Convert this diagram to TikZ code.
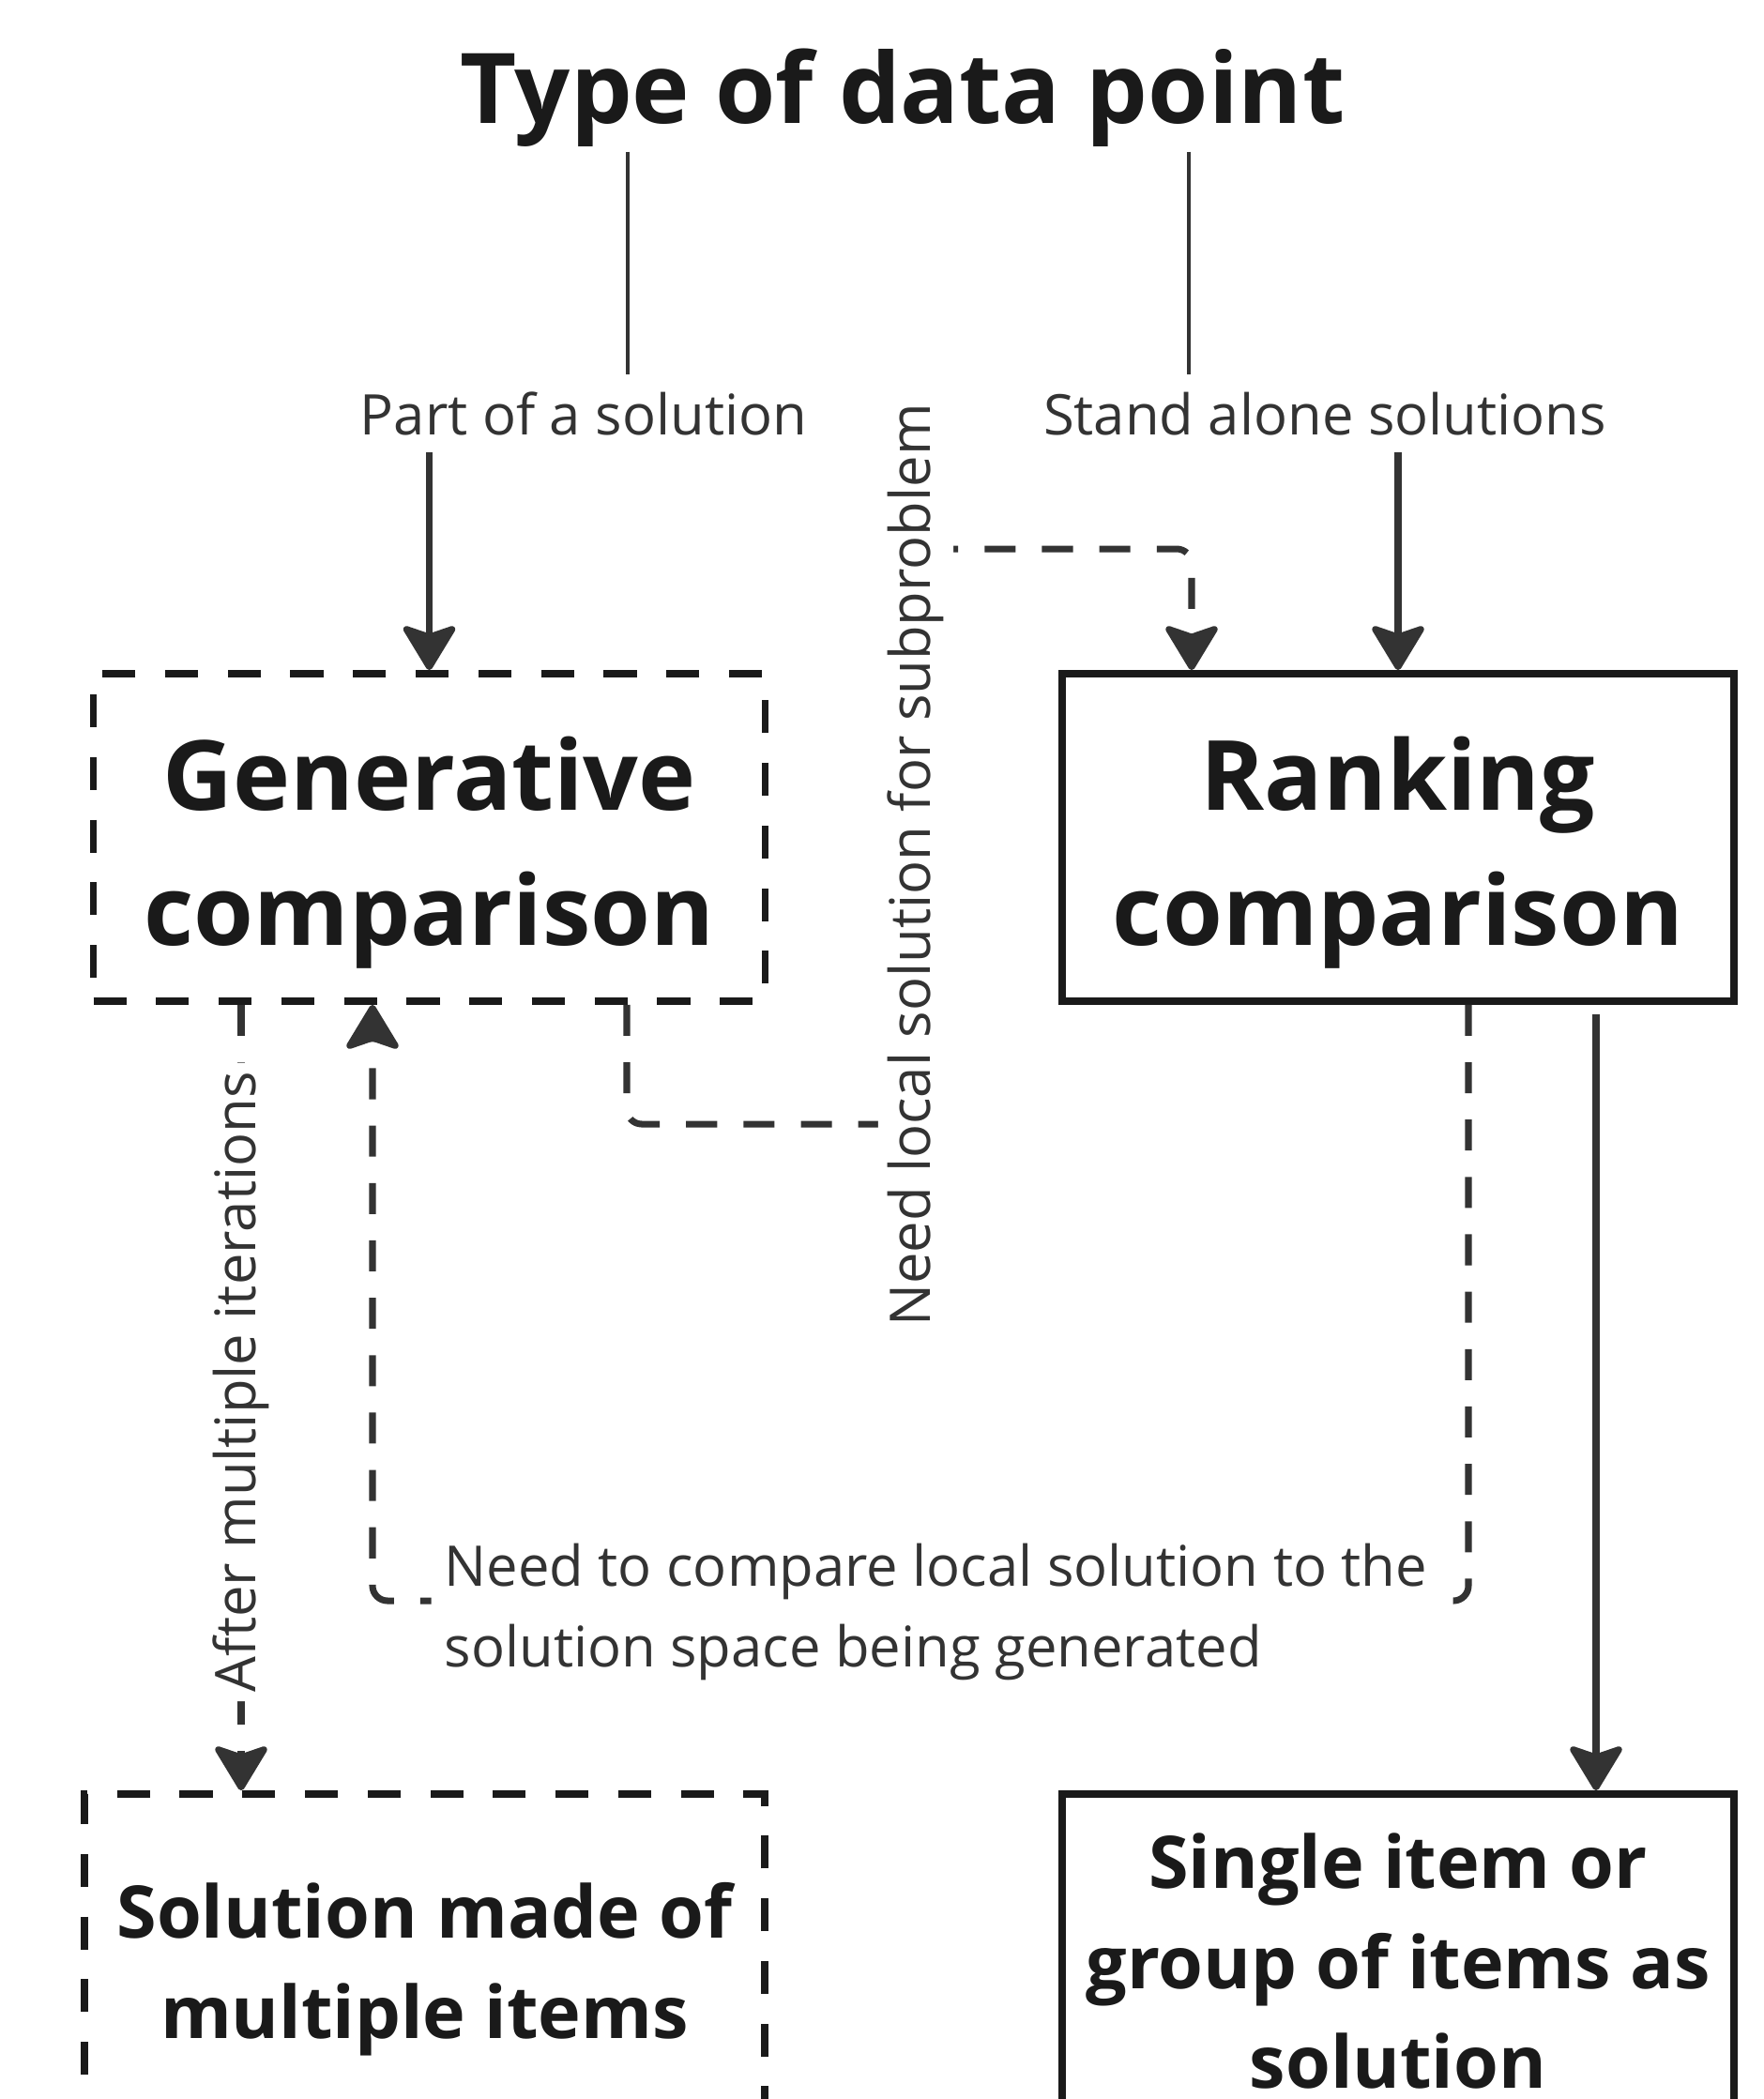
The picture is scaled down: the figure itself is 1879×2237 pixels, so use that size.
\documentclass[tikz,border=0pt]{standalone}
\usepackage{fontspec}
\setmainfont{Open Sans}
\usetikzlibrary{arrows.meta, positioning}
\definecolor{inkdark}{RGB}{26,26,26}
\definecolor{linegray}{RGB}{51,51,51}
\newcommand{\topgap}[1]{\rule{0pt}{#1em}}

\begin{document}
\begin{tikzpicture}[
  x=0.1mm, y=-0.1mm,
  heading/.style={font=\fontsize{29.6}{36}\selectfont\bfseries, text=inkdark, inner sep=0.5mm},
  toplbl/.style={font=\fontsize{17}{24.5}\selectfont, text=linegray, inner sep=1.8mm},
  sidelbl/.style={font=\fontsize{17}{24.5}\selectfont, text=linegray, fill=white, inner sep=1mm, rotate=90},
  notelbl/.style={font=\fontsize{17}{24.5}\selectfont, text=linegray, fill=white, inner sep=1.4mm, align=left},
  bigbox/.style={draw=inkdark, line width=2.2pt, minimum width=71.6mm, minimum height=34.9mm,
    align=center, font=\fontsize{29.4}{40.8}\selectfont\bfseries, text=inkdark},
  smallbox/.style={bigbox, minimum height=35.6mm, font=\fontsize{22}{30.4}\selectfont\bfseries},
  loosebox/.style={dash pattern=on 10pt off 9pt},
  stem/.style={draw=linegray, line width=1.2pt},
  flow/.style={draw=linegray, line width=2pt, -{Stealth[length=15pt, width=18pt, inset=3pt, round]}},
  dflow/.style={flow, dash pattern=on 9.4pt off 8pt, rounded corners=1.6mm},
]
  \useasboundingbox (0,0) rectangle (1879,2237);
  \clip (0,0) rectangle (1879,2237);

  % nodes
  \node[heading, anchor=base] (title) at (962,131) {Type of data point};
  \node[toplbl, anchor=base] (part) at (622,463) {Part of a solution};
  \node[toplbl, anchor=base] (stand) at (1412,463) {Stand alone solutions};
  \node[bigbox, loosebox] (gen) at (457.5,892.5) {\topgap{1.07}Generative\\comparison};
  \node[bigbox] (rank) at (1490,892.5) {\topgap{1.07}Ranking\\comparison};
  \node[smallbox, loosebox, minimum width=72.5mm] (multi) at (452.5,2090) {\topgap{0.98}Solution made of\\multiple items};
  \node[smallbox] (single) at (1490,2090) {Single item or\\group of items as\\solution};

  % bends
  \coordinate (leftstem) at (669,0);
  \coordinate (rightstem) at (1267,0);
  \coordinate (subA) at (668,1198);
  \coordinate (subB) at (976,1198);
  \coordinate (subC) at (976,585);
  \coordinate (subD) at (1270,585);
  \coordinate (iterx) at (257,0);
  \coordinate (cmpL) at (397,1706);
  \coordinate (cmpR) at (1565,1706);
  \coordinate (solx) at (1701,0);

  % connectors
  \draw[stem] (title.south -| leftstem) -- (part.north -| leftstem);
  \draw[stem] (title.south -| rightstem) -- (stand.north -| rightstem);
  \draw[flow] (part.south -| gen.north) -- (gen.north);
  \draw[flow] (stand.south -| rank.north) -- (rank.north);
  \draw[dflow] (gen.south -| subA) -- (subA) -- (subB)
    -- node[sidelbl, pos=0.45] (sublbl) {Need local solution for subproblem} (subC)
    -- (subD) -- (rank.north -| subD);
  \draw[dflow] (gen.south -| iterx)
    -- node[sidelbl, pos=0.48] (iterlbl) {After multiple iterations} (multi.north -| iterx);
  \draw[dflow] (rank.south -| cmpR) -- (cmpR)
    -- node[notelbl, pos=0.486, yshift=-1.2mm] (cmplbl) {Need to compare local solution to the\\solution space being generated} (cmpL)
    -- (gen.south -| cmpL);
  \draw[flow, shorten <=1mm] (rank.south -| solx) -- (single.north -| solx);
\end{tikzpicture}
\end{document}
